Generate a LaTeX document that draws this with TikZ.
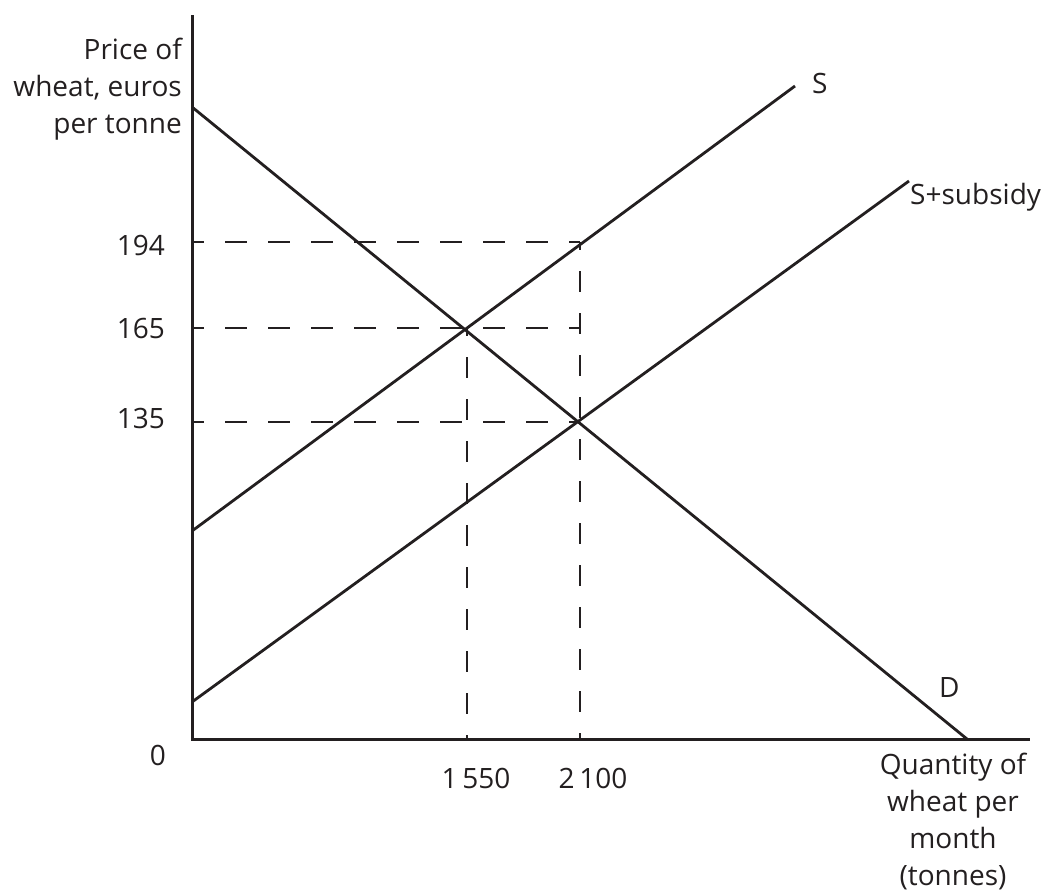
\documentclass[tikz,border=0pt]{standalone}
\usepackage{fontspec}
\setmainfont{Open Sans}
\definecolor{ink}{RGB}{35,31,32}
\begin{document}
\begin{tikzpicture}[x=1pt,y=-1pt,
  axis/.style={draw=ink,line width=3pt},
  curve/.style={draw=ink,line width=2.8pt},
  hguide/.style={draw=ink,line width=2.8pt,dash pattern=on 22pt off 21pt},
  vguide/.style={draw=ink,line width=2.8pt,dash pattern=on 21pt off 21pt},
  lbl/.style={text=ink,inner sep=0pt,font=\fontsize{28}{37}\selectfont}]
\useasboundingbox (0,0) rectangle (1049,895);
% key points
\coordinate (O) at (192,739);
\coordinate (Ytop) at (192,15);
\coordinate (Xend) at (1030,739);
\coordinate (D1) at (192,107);
\coordinate (D2) at (967,739);
\coordinate (S1) at (192,531);
\coordinate (S2) at (795,86);
\coordinate (T1) at (192,702);
\coordinate (T2) at (909,181);
\coordinate (E1) at (467,328);
\coordinate (E2) at (580,422);
\coordinate (P194) at (192,242);
\coordinate (K194) at (580,242);
\coordinate (P165) at (192,328);
\coordinate (K165) at (580,328);
\coordinate (P135) at (192,422);
\coordinate (Q1) at (467,739);
\coordinate (Q2) at (580,739);
% guides
\draw[hguide,dash phase=10pt] (P194) -- (K194);
\draw[hguide,dash phase=10pt] (P165) -- (K165);
\draw[hguide,dash phase=10pt] (P135) -- (E2);
\draw[vguide,dash phase=13pt] (K194) -- (Q2);
\draw[vguide,dash phase=13pt] (E1) -- (Q1);
% curves
\draw[curve] (D1) -- (D2);
\draw[curve] (S1) -- (S2);
\draw[curve] (T1) -- (T2);
% axes
\draw[axis] (Ytop) -- (O) -- (Xend);
% labels
\node[lbl,align=right,anchor=base east] (ylab) at (182,133) {Price of\\wheat, euros\\per tonne};
\node[lbl,anchor=base east] (l194) at (165,255) {194};
\node[lbl,anchor=base east] (l165) at (165,338) {165};
\node[lbl,anchor=base east] (l135) at (165,428) {135};
\node[lbl,anchor=base east] (l0) at (166,765) {0};
\node[lbl,anchor=base] (l1550) at (476,788) {1\,550};
\node[lbl,anchor=base] (l2100) at (593,788) {2\,100};
\node[lbl,anchor=base west] (lS) at (812,93) {S};
\node[lbl,anchor=base west] (lSs) at (910,204) {S+subsidy};
\node[lbl,anchor=base west] (lD) at (939,697) {D};
\node[lbl,align=center,anchor=base] (xlab) at (953,885) {Quantity of\\wheat per\\month\\(tonnes)};
\end{tikzpicture}
\end{document}
